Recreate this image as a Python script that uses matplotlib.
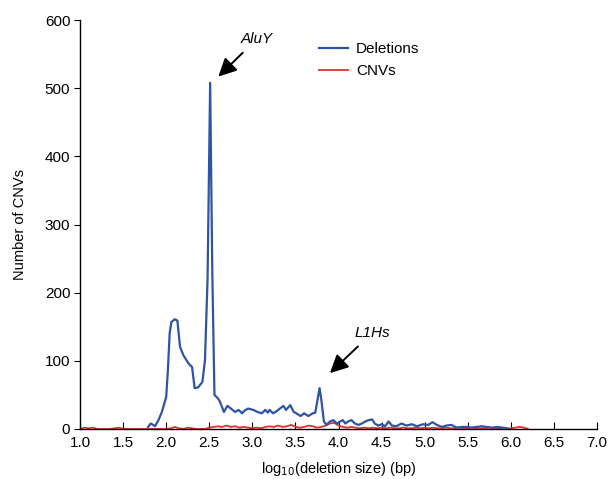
import matplotlib
matplotlib.use("Agg")
import matplotlib.pyplot as plt
import numpy as np

plt.rcParams['font.family'] = ['Liberation Sans', 'DejaVu Sans']

# Deletions (blue)
del_x = [1.79, 1.82, 1.85, 1.87, 1.91, 1.95, 2.00, 2.02, 2.04, 2.06, 2.10, 2.13, 2.16, 2.20, 2.26, 2.30,
         2.33, 2.37, 2.42, 2.45, 2.48, 2.51, 2.535, 2.56, 2.60, 2.62, 2.67, 2.71, 2.76, 2.80, 2.84, 2.88,
         2.91, 2.95, 3.01, 3.06, 3.11, 3.15, 3.18, 3.20, 3.24, 3.28, 3.32, 3.36, 3.39, 3.44, 3.48, 3.51,
         3.56, 3.60, 3.65, 3.70, 3.73, 3.78, 3.80, 3.83, 3.86, 3.90, 3.94, 3.98, 4.02, 4.05, 4.08, 4.11,
         4.15, 4.19, 4.23, 4.27, 4.31, 4.35, 4.39, 4.42, 4.46, 4.50, 4.54, 4.58, 4.62, 4.67, 4.73, 4.79,
         4.85, 4.91, 4.98, 5.04, 5.09, 5.14, 5.20, 5.25, 5.31, 5.37, 5.43, 5.49, 5.54, 5.60, 5.66, 5.72,
         5.78, 5.84, 5.90, 5.96]
del_y = [3, 8, 6, 4, 13, 25, 47, 87, 140, 157, 161, 159, 121, 108, 96, 91,
         60, 61, 69, 101, 220, 508, 230, 50, 45, 41, 25, 34, 29, 25, 28, 23,
         27, 30, 28, 25, 23, 28, 24, 28, 23, 26, 30, 34, 28, 35, 25, 23,
         19, 23, 19, 23, 24, 60, 43, 11, 6, 11, 13, 8, 11, 13, 8, 11,
         13, 8, 6, 8, 11, 13, 14, 8, 5, 7, 4, 11, 5, 4, 8, 5,
         7, 4, 7, 6, 10, 6, 3, 5, 6, 2, 3, 3, 2, 3, 4, 3,
         2, 3, 2, 1]

# CNVs (red)
cnv_x = [1.00, 1.05, 1.10, 1.15, 1.20, 1.25, 1.30, 1.35, 1.40, 1.45, 1.50, 1.55, 1.60, 1.65, 1.70, 1.75,
         1.80, 1.85, 1.90, 1.95, 2.00, 2.05, 2.10, 2.15, 2.20, 2.25, 2.30, 2.35, 2.40, 2.45, 2.50, 2.55,
         2.60, 2.65, 2.70, 2.75, 2.80, 2.85, 2.90, 2.95, 3.00, 3.05, 3.10, 3.15, 3.20, 3.25, 3.30, 3.35,
         3.40, 3.45, 3.50, 3.55, 3.60, 3.65, 3.70, 3.75, 3.80, 3.85, 3.90, 3.95, 4.00, 4.05, 4.10, 4.15,
         4.20, 4.25, 4.30, 4.35, 4.40, 4.45, 4.50, 4.55, 4.60, 4.65, 4.70, 4.75, 4.80, 4.85, 4.90, 4.95,
         5.00, 5.05, 5.10, 5.15, 5.20, 5.25, 5.30, 5.35, 5.40, 5.45, 5.50, 5.55, 5.60, 5.65, 5.70, 5.75,
         5.80, 5.85, 5.90, 5.95, 6.00, 6.05, 6.10, 6.15, 6.20]
cnv_y = [0, 2, 1, 2, 0, 0, 0, 0, 1, 2, 0, 0, 0, 0, 0, 0,
         0, 0, 0, 0, 0, 1, 3, 1, 0, 2, 1, 0, 0, 0, 2, 3,
         4, 3, 5, 3, 4, 2, 3, 2, 1, 2, 1, 3, 4, 3, 5, 3,
         4, 6, 3, 2, 3, 5, 4, 2, 3, 5, 8, 9, 5, 3, 2, 3,
         2, 1, 2, 1, 2, 1, 2, 1, 2, 1, 1, 2, 1, 1, 2, 1,
         2, 1, 2, 1, 1, 2, 1, 1, 2, 1, 1, 2, 1, 1, 1, 2,
         1, 1, 1, 0, 1, 2, 3, 2, 0]

x_ticks = [1.0, 1.5, 2.0, 2.5, 3.0, 3.5, 4.0, 4.5, 5.0, 5.5, 6.0, 6.5, 7.0]
y_ticks = [0, 100, 200, 300, 400, 500, 600]

fig = plt.figure(figsize=(6.09, 4.79), dpi=100)
ax = fig.add_axes([0.1314, 0.1044, 0.8490, 0.8538])

blue = '#2f54a5'
red = '#e2302b'
ax.plot(del_x, del_y, color=blue, lw=1.6, label='Deletions', zorder=3)
ax.plot(cnv_x, cnv_y, color=red, lw=1.3, label='CNVs', zorder=2)

ax.set_xlim(1.0, 7.0)
ax.set_ylim(0, 600)
ax.set_xticks(x_ticks)
ax.set_xticklabels([f'{t:.1f}' for t in x_ticks])
ax.set_yticks(y_ticks)
ax.spines['top'].set_visible(False)
ax.spines['right'].set_visible(False)
ax.spines['left'].set_linewidth(1.0)
ax.spines['bottom'].set_linewidth(1.0)
ax.tick_params(axis='x', direction='in', length=5, labelsize=11, pad=5)
ax.tick_params(axis='y', direction='out', length=4, labelsize=11, pad=3)

ax.set_xlabel('log$_{10}$(deletion size) (bp)', fontsize=10.5, labelpad=7)
ax.set_ylabel('Number of CNVs', fontsize=10.5, labelpad=13)

arrow = dict(arrowstyle='-|>,head_length=1.0,head_width=0.5', color='black', lw=1.4,
             shrinkA=4, shrinkB=0)
ax.annotate('AluY', xy=(2.605, 517), xytext=(3.05, 572), fontsize=11, style='italic',
            ha='center', va='center', arrowprops=arrow)
ax.annotate('L1Hs', xy=(3.90, 82), xytext=(4.39, 141), fontsize=11, style='italic',
            ha='center', va='center', arrowprops=arrow)

leg = ax.legend(loc='upper left', bbox_to_anchor=(0.435, 0.98), frameon=False, fontsize=11,
                handlelength=1.9, handletextpad=0.55, labelspacing=0.55)

fig.savefig('out.png', dpi=100)
